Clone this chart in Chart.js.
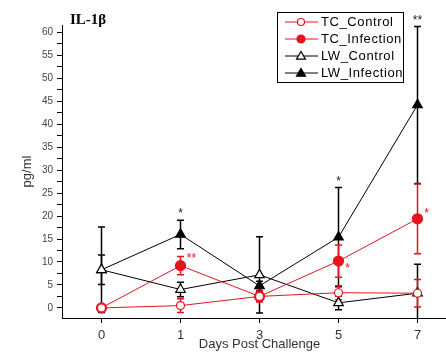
<!DOCTYPE html>
<html>
<head>
<meta charset="utf-8">
<script src="https://cdn.jsdelivr.net/npm/chart.js@4/dist/chart.umd.min.js"></script>
<style>
  html, body { margin: 0; padding: 0; background: #fff; overflow: hidden; }
  #wrap { width: 470px; height: 352px; }
</style>
</head>
<body>
<div id="wrap"><canvas id="il1b" width="470" height="352"></canvas></div>
<script>
// Days post challenge (equally spaced categories)
const days = ['0', '1', '3', '5', '7'];

// IL-1β concentration, pg/ml (mean and SD per day)
const tcControl = [0, 0.5, 2.5, 3.3, 3.2];
const tcControlSd = [0.5, 1.5, 1.0, 1.5, 3.0];
const tcInfection = [0, 9.2, 2.5, 10.2, 19.4];
const tcInfectionSd = [0.5, 2.0, 1.2, 3.5, 7.6];
const lwControl = [8.3, 4.0, 7.2, 1.1, 3.2];
const lwControlSd = [3.2, 1.6, 8.3, 1.5, 6.3];
const lwInfection = [8.3, 16.0, 4.8, 15.4, 44.2];
const lwInfectionSd = [9.3, 3.1, 1.0, 10.8, 17.1];

// significance marks
const tcInfectionStars = ['', '**', '', '*', '*'];
const lwInfectionStars = ['', '*', '', '*', '**'];

const yTicks = [0, 5, 10, 15, 20, 25, 30, 35, 40, 45, 50, 55, 60];

const RED = '#e5141f';
const BLACK = '#000';

function series(label, values, sd, color, style, filled, radius) {
  return {
    label: label,
    data: values.map((v, i) => ({ x: i, y: v })),
    sd: sd,
    borderColor: color,
    backgroundColor: color,
    borderWidth: 1,
    pointStyle: style,
    pointRadius: radius,
    pointHoverRadius: radius,
    pointBorderWidth: 1.2,
    pointBorderColor: color,
    pointBackgroundColor: filled ? color : '#fff',
    tension: 0,
  };
}

const datasets = [
  series('TC_Control', tcControl, tcControlSd, RED, 'circle', false, 4),
  series('TC_Infection', tcInfection, tcInfectionSd, RED, 'circle', true, 5),
  series('LW_Control', lwControl, lwControlSd, BLACK, 'triangle', false, 5.5),
  series('LW_Infection', lwInfection, lwInfectionSd, BLACK, 'triangle', true, 5.5),
];

// vertical SD bars with caps, red drawn over black
const errorBars = {
  id: 'errorBars',
  beforeDatasetsDraw(chart) {
    const { ctx, scales: { x, y } } = chart;
    ctx.save();
    ctx.lineWidth = 1.5;
    for (let d = chart.data.datasets.length - 1; d >= 0; d--) {
      const ds = chart.data.datasets[d];
      ctx.strokeStyle = ds.borderColor;
      ds.data.forEach((p, i) => {
        const px = x.getPixelForValue(p.x);
        const top = y.getPixelForValue(p.y + ds.sd[i]);
        const bot = Math.min(y.getPixelForValue(p.y - ds.sd[i]), y.bottom);
        ctx.beginPath();
        ctx.moveTo(px, top); ctx.lineTo(px, bot);
        ctx.moveTo(px - 3.5, top); ctx.lineTo(px + 3.5, top);
        if (bot < y.bottom) { ctx.moveTo(px - 3.5, bot); ctx.lineTo(px + 3.5, bot); }
        ctx.stroke();
      });
    }
    ctx.restore();
  }
};

// asterisks, title and boxed legend
const decorations = {
  id: 'decorations',
  afterDatasetsDraw(chart) {
    const { ctx, scales: { x, y } } = chart;
    ctx.save();
    ctx.font = '12px "Liberation Sans", Arial, sans-serif';
    ctx.textAlign = 'center';
    ctx.textBaseline = 'middle';
    // black stars above the LW_Infection bars
    ctx.fillStyle = '#222';
    lwInfectionStars.forEach((s, i) => {
      if (!s) return;
      const top = y.getPixelForValue(lwInfection[i] + lwInfectionSd[i]);
      ctx.fillText(s, x.getPixelForValue(i), top - 6);
    });
    // red stars beside the TC_Infection points
    ctx.fillStyle = RED;
    const redOffsets = [null, [11, -7], null, [9, 8], [9, -5]];
    tcInfectionStars.forEach((s, i) => {
      if (!s) return;
      const px = x.getPixelForValue(i), py = y.getPixelForValue(tcInfection[i]);
      ctx.fillText(s, px + redOffsets[i][0], py + redOffsets[i][1]);
    });

    // panel title
    ctx.fillStyle = '#000';
    ctx.textAlign = 'left';
    ctx.font = 'bold 15px "Liberation Serif", "Times New Roman", serif';
    ctx.fillText('IL-1β', 70, 20);

    // legend box
    const bx = 277.5, by = 12.5, bw = 126, bh = 70;
    ctx.strokeStyle = '#000';
    ctx.lineWidth = 1;
    ctx.strokeRect(bx, by, bw, bh);
    ctx.font = '13px "Liberation Sans", Arial, sans-serif';
    if ('letterSpacing' in ctx) ctx.letterSpacing = '0.6px';
    chart.data.datasets.forEach((ds, i) => {
      const ly = 22 + i * 17;
      ctx.strokeStyle = ds.borderColor;
      ctx.lineWidth = 1;
      ctx.beginPath();
      ctx.moveTo(285, ly); ctx.lineTo(318, ly);
      ctx.stroke();
      ctx.fillStyle = ds.pointBackgroundColor;
      ctx.strokeStyle = ds.pointBorderColor;
      ctx.lineWidth = 1.2;
      const r = ds.pointStyle === 'circle' ? (ds.pointRadius > 4 ? 4 : 3.5) : 4.5;
      ctx.beginPath();
      if (ds.pointStyle === 'circle') {
        ctx.arc(301, ly, r, 0, Math.PI * 2);
      } else {
        ctx.moveTo(301, ly - r); ctx.lineTo(301 + r, ly + r * 0.7); ctx.lineTo(301 - r, ly + r * 0.7);
        ctx.closePath();
      }
      ctx.fill(); ctx.stroke();
      ctx.fillStyle = '#000';
      ctx.fillText(ds.label, 321, ly + 0.5);
    });
    ctx.restore();
  }
};

new Chart(document.getElementById('il1b'), {
  type: 'line',
  data: { datasets: datasets },
  plugins: [errorBars, decorations],
  options: {
    responsive: false,
    animation: false,
    layout: { padding: { top: 25, right: 13, left: 0, bottom: 0 } },
    plugins: { legend: { display: false }, tooltip: { enabled: false } },
    scales: {
      x: {
        type: 'linear',
        min: -0.5,
        max: 4.5,
        afterBuildTicks: (s) => { s.ticks = days.map((d, i) => ({ value: i })); },
        afterFit: (s) => { s.height = 34; },
        border: { display: true, color: '#000', width: 1 },
        grid: { drawOnChartArea: false, drawTicks: true, tickLength: 5, tickColor: '#000' },
        ticks: {
          color: '#333',
          padding: 5,
          font: { family: '"Liberation Sans", Arial, sans-serif', size: 13 },
          callback: (v) => days[v],
        },
        title: {
          display: true,
          text: 'Days Post Challenge',
          color: '#333',
          padding: { top: 0, bottom: 0 },
          font: { family: '"Liberation Sans", Arial, sans-serif', size: 13 },
        },
      },
      y: {
        min: -2.2,
        max: 61.6,
        afterBuildTicks: (s) => {
          const t = [];
          for (let v = 0; v <= 60; v += 2.5) t.push({ value: v });
          s.ticks = t;
        },
        afterFit: (s) => { s.width = 62; },
        border: { display: true, color: '#000', width: 1 },
        grid: { drawOnChartArea: false, drawTicks: true, tickLength: 5, tickColor: '#000' },
        ticks: {
          color: '#444',
          padding: 4,
          autoSkip: false,
          font: { family: '"Liberation Sans", Arial, sans-serif', size: 10 },
          callback: (v) => (yTicks.includes(v) ? String(v) : ''),
        },
        title: {
          display: true,
          text: 'pg/ml',
          color: '#333',
          padding: { top: 20, bottom: 0 },
          font: { family: '"Liberation Sans", Arial, sans-serif', size: 13 },
        },
      },
    },
  },
});
</script>
</body>
</html>
